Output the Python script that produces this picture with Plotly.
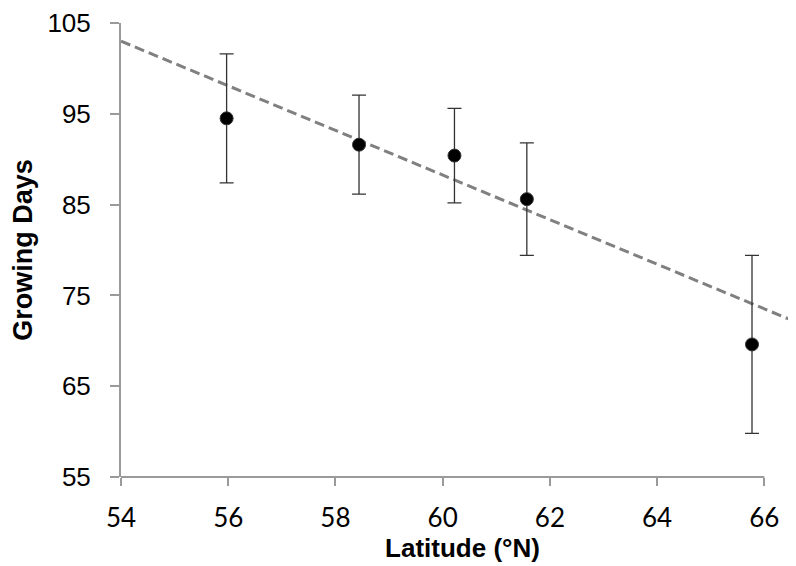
import plotly.graph_objects as go

# ---- data ----
latitude = [55.97, 58.44, 60.22, 61.57, 65.77]
growing_days = [94.5, 91.6, 90.4, 85.6, 69.6]
error_days = [7.1, 5.45, 5.2, 6.2, 9.8]

trend_lat = [54.0, 66.7]
trend_days = [103.0, 71.8]

x_ticks = [54, 56, 58, 60, 62, 64, 66]
y_ticks = [55, 65, 75, 85, 95, 105]

AXIS_GRAY = "#9a9a9a"

fig = go.Figure()

fig.add_trace(go.Scatter(
    x=trend_lat, y=trend_days, mode="lines",
    line=dict(color="#808080", width=3, dash="10px,5px"),
    hoverinfo="skip", showlegend=False,
))

fig.add_trace(go.Scatter(
    x=latitude, y=growing_days, mode="markers",
    marker=dict(size=13, color="#000000", line=dict(color="#333333", width=1)),
    error_y=dict(type="data", array=error_days, visible=True,
                 color="#333333", thickness=1.3, width=7),
    showlegend=False,
))

# x axis line only spans the tick range (54..66), trendline extends beyond
fig.add_shape(type="line", xref="x", yref="paper",
              x0=x_ticks[0], x1=x_ticks[-1], y0=0, y1=0,
              line=dict(color=AXIS_GRAY, width=2), layer="below")

fig.update_layout(
    width=796, height=566,
    margin=dict(l=113, r=0, t=15, b=97),
    paper_bgcolor="white", plot_bgcolor="white",
    xaxis=dict(
        range=[54, 66.74], tickvals=x_ticks, ticktext=[str(v) for v in x_ticks],
        showline=False, showgrid=False, zeroline=False,
        ticks="outside", ticklen=8, tickwidth=2, tickcolor=AXIS_GRAY,
        tickfont=dict(family="Lato", size=26, color="#000000"),
        ticklabelstandoff=10,
        title=dict(text="<b>Latitude (°N)</b>", standoff=6,
                   font=dict(family="Liberation Sans, Arial", size=26, color="#000000")),
    ),
    yaxis=dict(
        range=[55, 105], tickvals=y_ticks, ticktext=[str(v) for v in y_ticks],
        showline=True, linecolor=AXIS_GRAY, linewidth=2,
        showgrid=False, zeroline=False,
        ticks="outside", ticklen=9, tickwidth=2, tickcolor=AXIS_GRAY,
        tickfont=dict(family="Liberation Sans, Arial", size=26, color="#000000"),
        ticklabelstandoff=14,
        title=dict(text="<b>Growing Days</b>", standoff=14,
                   font=dict(family="Liberation Sans, Arial", size=27, color="#000000")),
    ),
)

fig.write_html("out.html")
